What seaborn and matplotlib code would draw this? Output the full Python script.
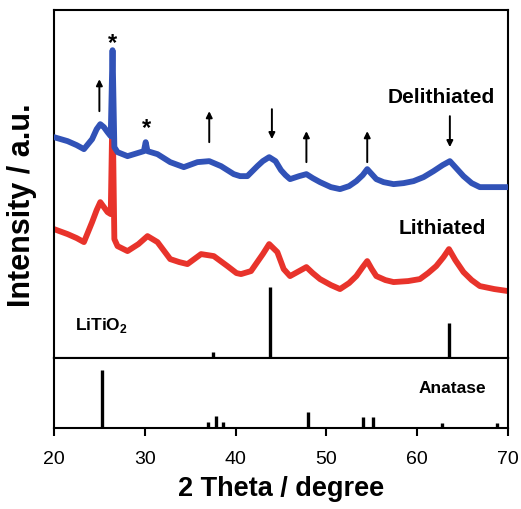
import matplotlib
matplotlib.use("Agg")
import matplotlib.pyplot as plt
import seaborn as sns

# XRD curves (2theta in degree, intensity in a.u.)
two_theta_deli = [20.0, 21.5, 22.5, 23.3, 24.2, 24.7, 25.1, 25.5, 25.9, 26.25, 26.45, 26.65,
                  27.0, 28.1, 29.9, 30.1, 30.3, 31.4, 32.8, 34.3, 35.8, 37.1, 38.4, 39.8,
                  40.5, 41.3, 42.4, 43.0, 43.7, 44.4, 45.0, 45.5, 46.0, 47.0, 47.8, 48.5,
                  49.3, 50.5, 51.5, 52.5, 53.3, 54.0, 54.5, 55.0, 55.5, 56.3, 57.4, 58.5,
                  59.6, 60.7, 61.8, 62.8, 63.6, 64.3, 65.1, 66.0, 66.9, 68.5, 70.0]
int_deli = [221, 217, 213, 209, 219, 229, 234, 231, 226, 222, 308, 211,
            206, 202, 207, 216, 207, 204, 196, 191, 196, 197, 192, 184,
            182, 182, 192, 197, 201, 197, 188, 183, 179, 182, 184, 180,
            176, 171, 169, 172, 177, 183, 189, 184, 179, 176, 174, 175,
            177, 181, 187, 193, 197, 190, 182, 175, 171, 171, 171]

two_theta_li = [20.0, 21.5, 22.5, 23.3, 24.2, 24.7, 25.1, 25.5, 25.9, 26.25, 26.45, 26.65,
                27.0, 28.1, 29.3, 30.3, 31.4, 32.8, 33.8, 34.7, 36.2, 37.6, 39.1, 40.1,
                40.6, 41.7, 43.0, 43.7, 44.6, 45.3, 46.0, 47.0, 47.8, 48.5, 49.3, 50.5,
                51.5, 52.5, 53.3, 54.0, 54.5, 55.0, 55.5, 56.5, 57.4, 59.0, 60.3, 61.2,
                62.1, 62.9, 63.5, 64.2, 65.1, 66.0, 66.9, 68.5, 70.0]
int_li = [129, 124, 120, 116, 136, 148, 156, 151, 146, 144, 254, 119,
          112, 107, 114, 122, 116, 99, 96, 94, 104, 102, 92, 85,
          84, 87, 104, 114, 106, 89, 82, 87, 91, 85, 79, 73,
          69, 75, 82, 91, 97, 89, 82, 78, 76, 77, 79, 85,
          92, 101, 109, 98, 86, 78, 72, 69, 67]

# reference patterns
litio2_pos = [37.5, 43.8, 63.5]
litio2_int = [6, 71, 35]
anatase_pos = [25.3, 37.0, 37.8, 38.6, 48.0, 54.0, 55.1, 62.7, 68.8]
anatase_int = [58, 6, 12, 6, 16, 11, 11, 5, 5]

# marker arrows: (position, start, end)
arrows = [(25.0, 247, 279), (37.1, 216, 247), (44.0, 249, 219),
          (47.8, 196, 227), (54.5, 196, 227), (63.6, 242, 211)]

sns.set_style("ticks")
plt.rcParams['font.family'] = ['Liberation Sans', 'DejaVu Sans']
plt.rcParams['mathtext.fontset'] = 'custom'
plt.rcParams['mathtext.rm'] = 'Liberation Sans'
plt.rcParams['mathtext.bf'] = 'Liberation Sans:bold'
plt.rcParams['text.color'] = 'black'
plt.rcParams['axes.edgecolor'] = 'black'
plt.rcParams['xtick.color'] = 'black'
plt.rcParams['axes.labelcolor'] = 'black'

fig = plt.figure(figsize=(5.21, 5.10), dpi=100)
ax1 = fig.add_axes([0.1036, 0.296, 0.8714, 0.682])
ax2 = fig.add_axes([0.1036, 0.159, 0.8714, 0.137], sharex=ax1)

sns.lineplot(x=two_theta_li, y=int_li, ax=ax1, color='#e8332b', lw=4.2, zorder=2)
sns.lineplot(x=two_theta_deli, y=int_deli, ax=ax1, color='#3152b7', lw=4.2, zorder=3)

ax1.vlines(litio2_pos, 0, litio2_int, color='black', lw=2.4)
ax2.vlines(anatase_pos, 0, anatase_int, color='black', lw=2.4)

for x, y0, y1 in arrows:
    ax1.annotate('', xy=(x, y1), xytext=(x, y0),
                 arrowprops=dict(arrowstyle='-|>', color='black', lw=1.4,
                                 mutation_scale=9, shrinkA=0, shrinkB=0))

ax1.text(26.5, 316, '*', fontsize=17, fontweight='bold', ha='center', va='center')
ax1.text(30.2, 231, '*', fontsize=17, fontweight='bold', ha='center', va='center')

ax1.text(62.6, 262, 'Delithiated', fontsize=15, fontweight='bold', ha='center', va='center')
ax1.text(62.8, 131, 'Lithiated', fontsize=15, fontweight='bold', ha='center', va='center')
ax1.text(25.2, 34, r'LiTiO$_\mathbf{2}$', fontsize=12.5, fontweight='bold', ha='center', va='center')
ax2.text(63.9, 40, 'Anatase', fontsize=12.5, fontweight='bold', ha='center', va='center')

ax1.set_xlim(20, 70)
ax1.set_ylim(0, 348)
ax2.set_ylim(0, 70)
for ax in (ax1, ax2):
    ax.set_yticks([])
    for s in ax.spines.values():
        s.set_linewidth(1.5)
        s.set_color('black')
        s.set_visible(True)
ax1.tick_params(axis='x', bottom=False, labelbottom=False)
ax2.set_xticks([20, 30, 40, 50, 60, 70])
ax2.tick_params(axis='x', direction='out', length=6, width=1.5, labelsize=14, pad=10,
                colors='black')
ax2.set_xlabel('2 Theta / degree', fontsize=19.5, fontweight='bold', labelpad=6)
fig.text(22 / 521, 1 - 205 / 510, 'Intensity / a.u.', rotation=90, fontsize=22,
         fontweight='bold', ha='center', va='center')

fig.savefig('out.png', dpi=100)
